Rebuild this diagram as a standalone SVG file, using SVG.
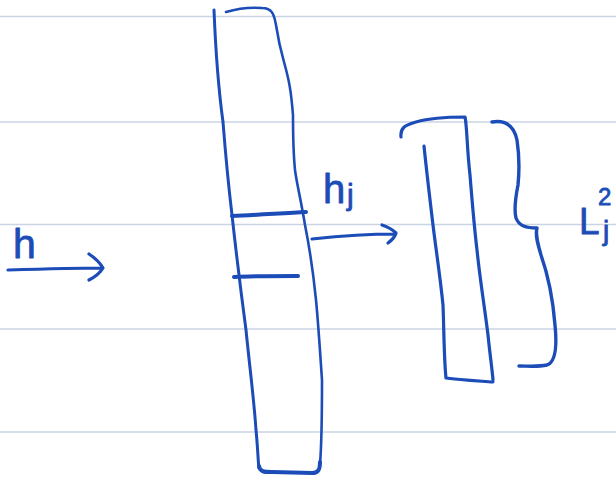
<svg xmlns="http://www.w3.org/2000/svg" width="616" height="481" viewBox="0 0 616 481">
<style>
.rule{stroke:#c9d4e4;stroke-width:1.3;fill:none}
.ink{stroke:#1b4cb8;fill:none;stroke-linecap:round;stroke-linejoin:round}
.txt{font-family:"Liberation Sans",Arial,sans-serif;fill:#1b4cb8;stroke:#1b4cb8;stroke-width:0.8;stroke-linejoin:round}
</style>
<rect width="616" height="481" fill="#ffffff"/>
<g id="paper">
<line class="rule" x1="0" y1="16.5" x2="616" y2="16.5"/>
<line class="rule" x1="0" y1="122" x2="616" y2="122"/>
<line class="rule" x1="0" y1="224.5" x2="616" y2="224.5"/>
<line class="rule" x1="0" y1="329" x2="616" y2="329"/>
<line class="rule" x1="0" y1="432" x2="616" y2="432"/>
</g>
<g id="big-column">
<path class="ink" stroke-width="3" d="M214,10 C216,60 220,100 223,122 C226,160 229,190 232,215 C237,260 242,300 246,330 C250,370 254,400 256,430 C258,450 258,462 259,468"/>
<path class="ink" stroke-width="4" d="M259,466 C260,472 264,472 272,472 L312,473 C318,473 320,470 320,462"/>
<path class="ink" stroke-width="2.6" d="M320,464 C322,440 322,410 322,380 C320,350 318,320 316,300 C313,270 308,240 305,225 C301,200 297,185 295,170 C293,150 293,130 293,115 C291,90 289,80 284,62 C280,48 278,38 276,25 C274,14 272,8 262,8 C250,7 236,9 226,12"/>
<path class="ink" stroke-width="4" d="M232,216 C255,215 285,213 306,212"/>
<path class="ink" stroke-width="4" d="M234,277 C255,276 280,276 298,276"/>
</g>
<g id="small-column">
<path class="ink" stroke-width="3.2" d="M401,137 C400,128 405,125 416,122 C430,118 450,117 465,117 C467,125 467,150 470,175 C472,200 474,225 477,250 C480,280 485,310 488,335 C490,355 492,368 493,380"/>
<path class="ink" stroke-width="3.2" d="M493,382 C480,381 460,380 446,378 C444,360 444,330 443,305 C440,275 436,250 433,225 C430,200 427,175 424,146"/>
</g>
<g id="brace">
<path class="ink" stroke-width="3.4" d="M492,122 C505,120 514,125 517,140 C520,160 519,175 518,185 C515,200 514,210 516,218 C519,226 526,228 537,228 C535,235 538,245 541,255 C548,275 553,300 555,325 C557,345 556,362 547,365 C538,367 528,366 519,366"/>
</g>
<g id="connectors">
<path class="ink" stroke-width="3.2" d="M8,270 C40,269 75,268 102,268 M89,254 C95,258 100,263 103,268 C100,273 95,277 89,280"/>
<path class="ink" stroke-width="3.2" d="M312,239 C340,236 370,234 395,234 M382,225 C388,227 393,230 396,233 C395,237 392,240 388,243"/>
</g>
<g id="labels">
<text class="txt" x="13" y="258" font-size="41">h</text>
<text class="txt" x="323" y="203" font-size="40">h</text>
<text class="txt" x="347" y="205" font-size="30">j</text>
<text class="txt" x="579" y="234" font-size="37">L</text>
<text class="txt" x="598" y="205" font-size="24">2</text>
<text class="txt" x="603" y="240" font-size="28">j</text>
</g>
</svg>
